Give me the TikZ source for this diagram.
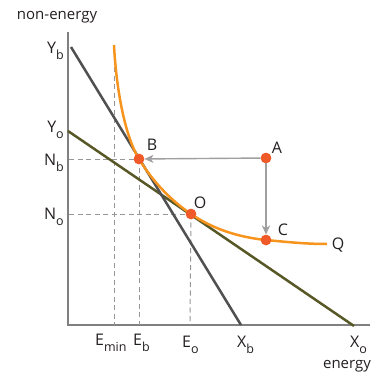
\documentclass[tikz,border=0pt]{standalone}
\usepackage{fontspec}
\setmainfont{Open Sans}
\usetikzlibrary{arrows.meta}
\definecolor{axisgray}{RGB}{128,128,128}
\definecolor{dashgray}{RGB}{150,150,150}
\definecolor{arrgray}{RGB}{160,160,160}
\definecolor{budgetb}{RGB}{80,80,80}
\definecolor{budgeto}{RGB}{88,88,38}
\definecolor{isoq}{RGB}{247,148,29}
\definecolor{dotc}{RGB}{240,90,40}
\definecolor{txt}{RGB}{35,31,32}
\newcommand{\sbx}[1]{\raisebox{-6.5pt}{\fontsize{12.5}{13}\selectfont #1}}
\begin{document}
\begin{tikzpicture}[x=1pt,y=-1pt,
  lbl/.style={text=txt,font=\fontsize{16}{18}\selectfont,inner sep=0pt},
  axlbl/.style={text=txt,font=\fontsize{15}{18}\selectfont,inner sep=0pt},
  axisline/.style={axisgray,line width=1.2pt},
  guide/.style={dashgray,line width=1pt,dash pattern=on 5pt off 3.5pt},
  budget/.style={line width=2.5pt},
  dotstyle/.style={circle,fill=dotc,minimum size=10.5pt,inner sep=0pt},
  movearrow/.style={arrgray,line width=1.4pt,-{Stealth[length=9pt,width=8pt,inset=2.5pt]}}]
\useasboundingbox (0,0) rectangle (381,378);
% axes
\coordinate (otop) at (68,32);
\coordinate (orig) at (68,325);
\coordinate (xend) at (370,325);
\draw[axisline] (otop) -- (orig) -- (xend);
% guides
\coordinate (emtop) at (114,50);
\coordinate (emb) at (114,325);
\coordinate (ebb) at (139,325);
\coordinate (eob) at (190,325);
\coordinate (nbl) at (69,159);
\coordinate (nol) at (69,214);
% points
\node[dotstyle] (B) at (139,159) {};
\node[dotstyle] (O) at (191,214) {};
\node[dotstyle] (A) at (266,158) {};
\node[dotstyle] (C) at (266,240) {};
\draw[guide] (emtop) -- (emb);
\draw[guide] (B.center) -- (ebb);
\draw[guide] (O.center) -- (eob);
\draw[guide] (nbl) -- (B.center);
\draw[guide] (nol) -- (O.center);
% budget lines
\coordinate (yb) at (71,47);
\coordinate (xb) at (241,325);
\coordinate (yo) at (68,131);
\coordinate (xo) at (354,326);
\draw[budget,budgeto] (yo) -- (xo);
\draw[budget,budgetb] (yb) -- (xb);
% isoquant
\coordinate (qtop) at (114,45);
\coordinate (qend) at (327,244);
\draw[budget,isoq] (qtop) .. controls (116,85) and (124,134.5) .. (B.center)
  .. controls (152.7,181.3) and (170,199.7) .. (O.center)
  .. controls (212.3,228.5) and (237.3,237.1) .. (C.center)
  .. controls (287,242) and (306,244) .. (qend);
% dots on top
\node[dotstyle] at (B) {};
\node[dotstyle] at (O) {};
\node[dotstyle] at (A) {};
\node[dotstyle] at (C) {};
% arrows
\draw[movearrow] (A) -- (B);
\draw[movearrow] (A) -- (C);
% point labels
\node[lbl] (lB) at (152,145) {B};
\node[lbl] (lA) at (277,148) {A};
\node[lbl] (lO) at (200,203) {O};
\node[lbl] (lC) at (283,230) {C};
\node[lbl] (lQ) at (338,245) {Q};
% axis labels
\node[axlbl] (ne) at (57,17) {non-energy};
\node[axlbl] (en) at (347,366) {energy};
\node[lbl,anchor=base east] (lYb) at (64,53) {Y\sbx{b}};
\node[lbl,anchor=base east] (lYo) at (64,132) {Y\sbx{o}};
\node[lbl,anchor=base east] (lNb) at (64,165) {N\sbx{b}};
\node[lbl,anchor=base east] (lNo) at (64,219) {N\sbx{o}};
\node[lbl,anchor=base west] (lEm) at (95,345) {E\sbx{min}};
\node[lbl,anchor=base west] (lEb) at (133,345) {E\sbx{b}};
\node[lbl,anchor=base west] (lEo) at (182,347) {E\sbx{o}};
\node[lbl,anchor=base west] (lXb) at (237,347) {X\sbx{b}};
\node[lbl,anchor=base west] (lXo) at (350,347) {X\sbx{o}};
\end{tikzpicture}
\end{document}
